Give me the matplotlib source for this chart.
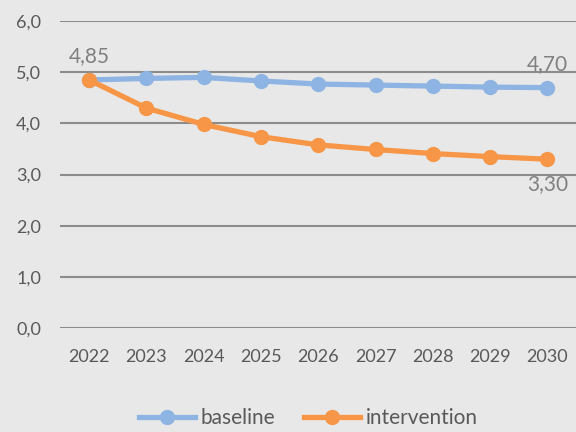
import matplotlib.pyplot as plt

years = ['2022', '2023', '2024', '2025', '2026', '2027', '2028', '2029', '2030']
baseline = [4.85, 4.88, 4.90, 4.83, 4.77, 4.75, 4.73, 4.71, 4.70]
intervention = [4.85, 4.30, 3.98, 3.74, 3.58, 3.49, 3.41, 3.35, 3.30]

bg = '#E8E8E8'
blue = '#8EB4E3'
orange = '#F79646'
grey = '#808080'

plt.rcParams['font.family'] = ['Lato', 'DejaVu Sans']

fig = plt.figure(figsize=(5.76, 4.32), dpi=100, facecolor=bg)
ax = fig.add_axes([0.105, 0.241, 0.895, 0.71])
ax.set_facecolor(bg)

x = range(len(years))
ax.plot(x, baseline, color=blue, lw=3.8, marker='o', ms=10, label='baseline', zorder=3)
ax.plot(x, intervention, color=orange, lw=3.8, marker='o', ms=10, label='intervention', zorder=4)

ax.set_ylim(0, 6)
ax.set_xlim(-0.5, len(years) - 0.5)
ax.set_yticks(range(7))
ax.set_yticklabels([f'{v},0' for v in range(7)])
ax.set_xticks(list(x))
ax.set_xticklabels(years)
ax.yaxis.grid(True, color='#8C8C8C', lw=1.5)
ax.set_axisbelow(True)
for s in ax.spines.values():
    s.set_visible(False)
ax.tick_params(length=0, labelsize=13, colors='#595959')
ax.tick_params(axis='x', pad=15)
ax.tick_params(axis='y', pad=14)

def fmt(v):
    return f'{v:.2f}'.replace('.', ',')

lab = dict(fontsize=15, color=grey, ha='center')
ax.annotate(fmt(baseline[0]), (0, baseline[0]), xytext=(0, 10), textcoords='offset points', va='bottom', **lab)
ax.annotate(fmt(baseline[-1]), (8, baseline[-1]), xytext=(0, 10), textcoords='offset points', va='bottom', **lab)
ax.annotate(fmt(intervention[-1]), (8, intervention[-1]), xytext=(0, -11), textcoords='offset points', va='top', **lab)

fig.legend(loc='lower center', ncol=2, frameon=False, fontsize=15, labelcolor='#595959',
           bbox_to_anchor=(0.535, -0.035), handlelength=2.7, handletextpad=0.25, columnspacing=1.4)

fig.savefig('out.png', dpi=100, facecolor=bg)
